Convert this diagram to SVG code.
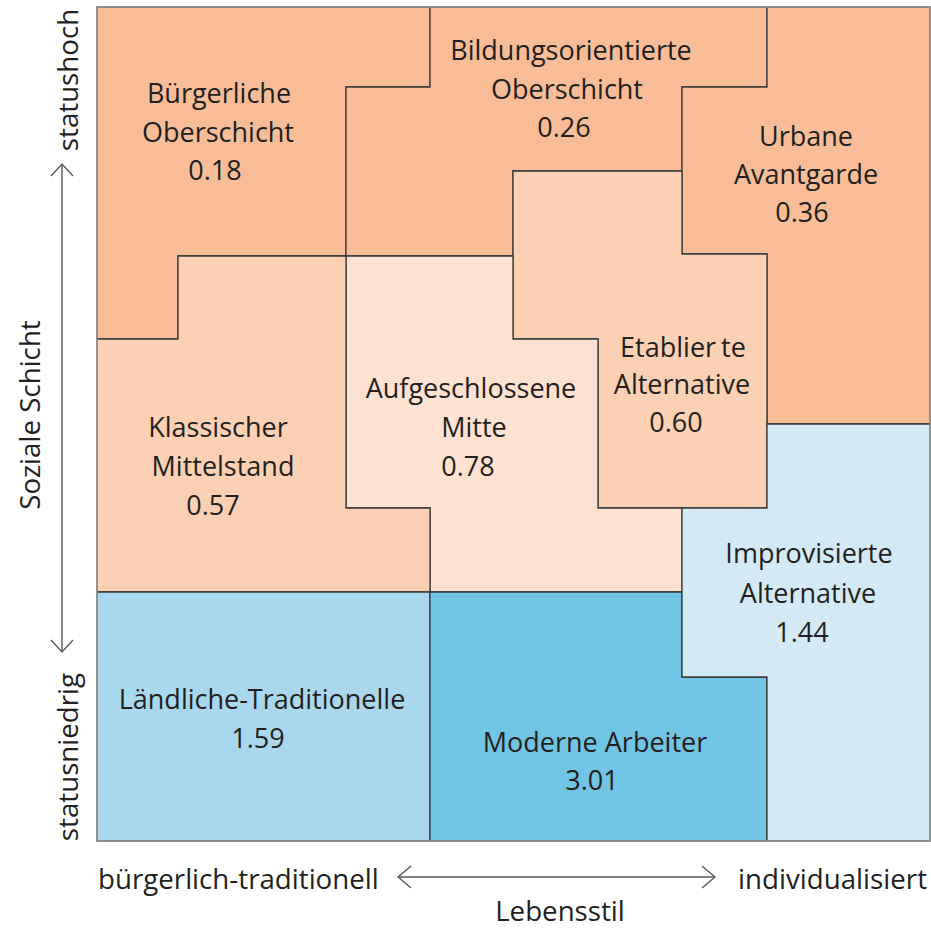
<svg xmlns="http://www.w3.org/2000/svg" width="931" height="930" viewBox="0 0 931 930">
<style>
.reg{stroke:#3a3a3a;stroke-width:1.3;stroke-linejoin:miter}
.o1{fill:#F8BD97}
.o2{fill:#FBD0B3}
.o3{fill:#FDE2D1}
.b1{fill:#A9D8EE}
.b2{fill:#72C4E4}
.b3{fill:#D3EAF6}
text{font-family:"Open Sans","Noto Sans","DejaVu Sans",sans-serif;fill:#231f20}
.lbl{font-size:27px;text-anchor:middle}
.ax{font-size:27.7px}
.arr{stroke:#5a5a5a;stroke-width:1.4;fill:none}
</style>
<rect x="0" y="0" width="931" height="930" fill="#ffffff"/>
<g id="buergerliche-oberschicht">
<polygon class="reg o1" points="97,7 430,7 430,87 346,87 346,256 178,256 178,339 97,339"/>
<text class="lbl" x="219" y="103">Bürgerliche</text>
<text class="lbl" x="218" y="142">Oberschicht</text>
<text class="lbl" x="215" y="180">0.18</text>
</g>
<g id="bildungsorientierte-oberschicht">
<polygon class="reg o1" points="430,7 767,7 767,87 682,87 682,171 513,171 513,256 346,256 346,87 430,87"/>
<text class="lbl" x="571" y="60">Bildungsorientierte</text>
<text class="lbl" x="567" y="99">Oberschicht</text>
<text class="lbl" x="564" y="137">0.26</text>
</g>
<g id="urbane-avantgarde">
<polygon class="reg o1" points="767,7 930,7 930,424 767,424 767,254 682,254 682,87 767,87"/>
<text class="lbl" x="806" y="146">Urbane</text>
<text class="lbl" x="806" y="184">Avantgarde</text>
<text class="lbl" x="802" y="222">0.36</text>
</g>
<g id="etablierte-alternative">
<polygon class="reg o2" points="513,171 682,171 682,254 767,254 767,508 598,508 598,339 513,339"/>
<text class="lbl" x="683" y="357"><tspan>Etablier</tspan><tspan dx="5">te</tspan></text>
<text class="lbl" x="682" y="394">Alternative</text>
<text class="lbl" x="676" y="432">0.60</text>
</g>
<g id="aufgeschlossene-mitte">
<polygon class="reg o3" points="346,256 513,256 513,339 598,339 598,508 682,508 682,592 430,592 430,508 346,508"/>
<text class="lbl" x="471" y="398">Aufgeschlossene</text>
<text class="lbl" x="474" y="437">Mitte</text>
<text class="lbl" x="468" y="476">0.78</text>
</g>
<g id="klassischer-mittelstand">
<polygon class="reg o2" points="178,256 346,256 346,508 430,508 430,592 97,592 97,339 178,339"/>
<text class="lbl" x="218" y="437">Klassischer</text>
<text class="lbl" x="223" y="476">Mittelstand</text>
<text class="lbl" x="213" y="515">0.57</text>
</g>
<g id="laendliche-traditionelle">
<polygon class="reg b1" points="97,592 430,592 430,841 97,841"/>
<text class="lbl" x="262" y="709">Ländliche-Traditionelle</text>
<text class="lbl" x="258" y="748">1.59</text>
</g>
<g id="moderne-arbeiter">
<polygon class="reg b2" points="430,592 682,592 682,677 767,677 767,841 430,841"/>
<text class="lbl" x="595" y="752">Moderne Arbeiter</text>
<text class="lbl" x="592" y="790">3.01</text>
</g>
<g id="improvisierte-alternative">
<polygon class="reg b3" points="767,424 930,424 930,841 767,841 767,677 682,677 682,508 767,508"/>
<text class="lbl" x="809" y="563">Improvisierte</text>
<text class="lbl" x="808" y="603">Alternative</text>
<text class="lbl" x="802" y="642">1.44</text>
</g>
<rect x="97" y="7" width="833" height="834" fill="none" stroke="#9a9a9a" stroke-width="1.5"/>
<g id="connectors">
<line class="arr" x1="62" y1="164" x2="62" y2="652"/>
<polyline class="arr" points="51,176 62,164 73,176"/>
<polyline class="arr" points="51,640 62,652 73,640"/>
<line class="arr" x1="398" y1="877" x2="715" y2="877"/>
<polyline class="arr" points="411,866 398,877 411,888"/>
<polyline class="arr" points="702,866 715,877 702,888"/>
</g>
<g id="axis-labels">
<text class="ax" transform="translate(78,80) rotate(-90)" text-anchor="middle">statushoch</text>
<text class="ax" transform="translate(40,415) rotate(-90)" text-anchor="middle">Soziale Schicht</text>
<text class="ax" transform="translate(78,757) rotate(-90)" text-anchor="middle">statusniedrig</text>
<text class="ax" x="98" y="889">bürgerlich-traditionell</text>
<text class="ax" x="927" y="889" text-anchor="end">individualisiert</text>
<text class="ax" x="560" y="921" text-anchor="middle">Lebensstil</text>
</g>
</svg>
